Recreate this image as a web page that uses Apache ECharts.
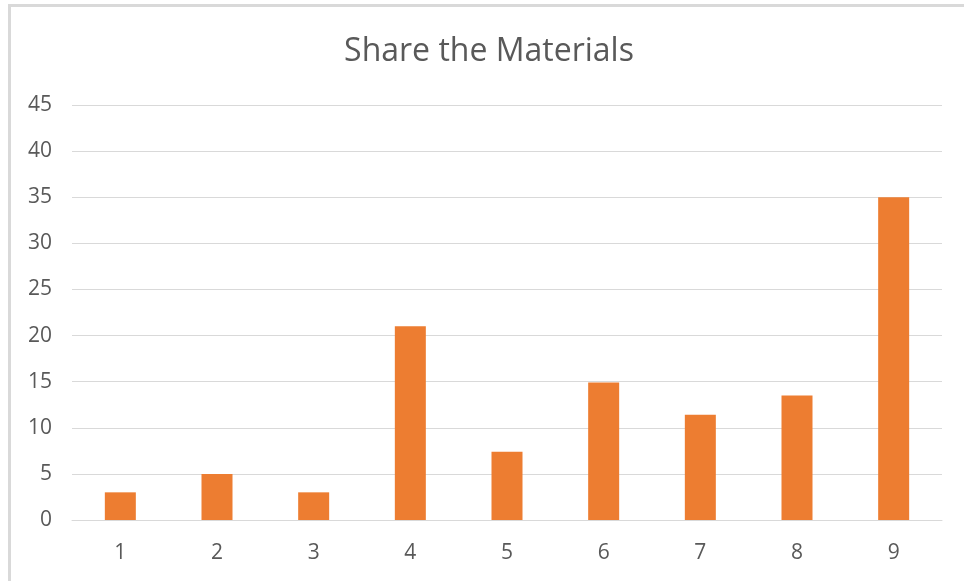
<!DOCTYPE html>
<html>
<head>
<meta charset="utf-8">
<script src="https://cdn.jsdelivr.net/npm/echarts@6/dist/echarts.min.js"></script>
<style>
  html, body { margin: 0; padding: 0; background: #fff; overflow: hidden; }
  #chart { position: absolute; left: 0; top: 0; width: 964px; height: 581px; }
  #frame { position: absolute; left: 8px; top: 4px; width: 1000px; height: 640px;
           border-left: 3px solid #d9d9d9; border-top: 3px solid #d9d9d9; pointer-events: none; }
</style>
</head>
<body>
<div id="chart"></div>
<div id="frame"></div>
<script>
const categories = ['1', '2', '3', '4', '5', '6', '7', '8', '9'];
const values = [3, 5, 3, 21, 7.4, 14.9, 11.4, 13.5, 35];
const yMin = 0;
const yMax = 45;
const yStep = 5;

const chart = echarts.init(document.getElementById('chart'));
chart.setOption({
  animation: false,
  backgroundColor: '#fff',
  title: {
    text: 'Share the Materials',
    left: 484,
    textAlign: 'center',
    top: 31,
    textStyle: { fontFamily: 'Open Sans', fontSize: 32, fontWeight: 'normal', color: '#595959' }
  },
  grid: { left: 72, right: 22, top: 105, bottom: 61 },
  xAxis: {
    type: 'category',
    data: categories,
    axisLine: { show: true, lineStyle: { color: '#d9d9d9', width: 1 } },
    axisTick: { show: false },
    axisLabel: { color: '#595959', fontFamily: 'Open Sans', fontSize: 21, margin: 23 }
  },
  yAxis: {
    type: 'value',
    min: yMin,
    max: yMax,
    interval: yStep,
    axisLine: { show: false },
    axisTick: { show: false },
    splitLine: { lineStyle: { color: '#d9d9d9', width: 1 } },
    axisLabel: { color: '#595959', fontFamily: 'Open Sans', fontSize: 21, margin: 20 }
  },
  series: [{
    type: 'bar',
    data: values,
    barWidth: 31,
    itemStyle: { color: '#ed7d31' }
  }]
});
</script>
</body>
</html>
